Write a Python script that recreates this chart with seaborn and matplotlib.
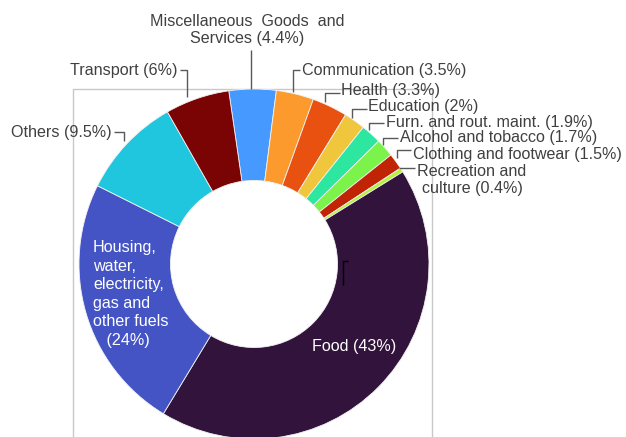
import matplotlib
matplotlib.use("Agg")
import matplotlib.pyplot as plt
import seaborn as sns

# ---- data (clockwise from top) ----
categories = ["Miscellaneous Goods and Services", "Communication", "Health", "Education",
              "Furn. and rout. maint.", "Alcohol and tobacco", "Clothing and footwear",
              "Recreation and culture", "Food",
              "Housing, water, electricity, gas and other fuels", "Others", "Transport"]
shares = [4.4, 3.5, 3.3, 2.0, 1.9, 1.7, 1.5, 0.4, 43.0, 24.0, 9.5, 6.0]
colors_hex = ["#4699FE", "#FD9A2D", "#E85110", "#EFC63C", "#2DE6A0", "#7CF34B",
              "#C12405", "#B6F23A", "#31133C", "#4454C4", "#20C5DE", "#7A0403"]

sns.set_theme(style="white")
plt.rcParams["font.family"] = ["Liberation Sans", "DejaVu Sans"]
palette = sns.color_palette(colors_hex)

W, H = 626, 437
fig = plt.figure(figsize=(W / 100, H / 100), dpi=100)
ax = fig.add_axes([0, 0, 1, 1])


def Y(y):  # pixel row -> data y
    return H - y


cx, cy, R, r_in = 254, 264, 175, 83.5

# plot-area frame (partially visible)
ax.plot([73, 73, 432, 432], [Y(445), Y(89), Y(89), Y(445)], color="#C8C8C8", lw=1.0,
        zorder=0, clip_on=False)

ax.pie(shares, colors=palette, startangle=98.3, counterclock=False, radius=R,
       center=(cx, Y(cy)), frame=True,
       wedgeprops=dict(width=R - r_in, edgecolor="#F2F2F2", linewidth=0.6))

ax.set_xlim(0, W)
ax.set_ylim(0, H)
ax.set_aspect("equal")
ax.axis("off")

txt_c = "#404040"
line_c = "#595959"
fs = 11.6


def leader(pts, color=line_c):
    xs = [p[0] for p in pts]
    ys = [Y(p[1]) for p in pts]
    ax.plot(xs, ys, color=color, lw=1.0, zorder=5, solid_capstyle="butt")


def lab(x, y, s, ha="left", color=txt_c, ma=None):
    ax.text(x, Y(y), s, ha=ha, va="center", fontsize=fs, color=color,
            multialignment=ma or ha, linespacing=1.2)


# Miscellaneous
lab(247, 30, "Miscellaneous  Goods  and\nServices (4.4%)", ha="center")
leader([(251, 50), (251, 89)])
# Transport
lab(177, 70, "Transport (6%)", ha="right")
leader([(180, 70), (187, 70), (187, 97)])
# Others
lab(112, 133, "Others (9.5%)", ha="right")
leader([(114, 132), (124, 132), (124, 141)])
# Communication
lab(302, 71, "Communication (3.5%)")
leader([(300, 70), (293, 70), (293, 92)])
# Health
lab(341, 91, "Health (3.3%)")
leader([(340, 93), (325, 93), (325, 102)])
# Education
lab(368, 106.5, "Education (2%)")
leader([(367, 109), (352, 109), (352, 118)])
# Furn
lab(386, 122, "Furn. and rout. maint. (1.9%)")
leader([(384, 123), (369, 123), (369, 130)])
# Alcohol
lab(400, 137.5, "Alcohol and tobacco (1.7%)")
leader([(398, 137.5), (383, 137.5), (383, 145)])
# Clothing
lab(413, 154.5, "Clothing and footwear (1.5%)")
leader([(411, 150), (397, 150), (397, 158)])
# Recreation
lab(472, 180, "Recreation and\nculture (0.4%)", ha="center")
leader([(415, 168), (399, 168)])
# Food leader remnant
leader([(348, 261), (343, 261), (343, 285)], color="#000000")

# inside labels
ax.text(354, Y(346), "Food (43%)", ha="center", va="center", fontsize=fs, color="white")
ax.text(93, Y(294), "Housing,\nwater,\nelectricity,\ngas and\nother fuels\n   (24%)",
        ha="left", va="center", fontsize=fs, color="white", linespacing=1.29)

fig.savefig("out.png", dpi=100)
